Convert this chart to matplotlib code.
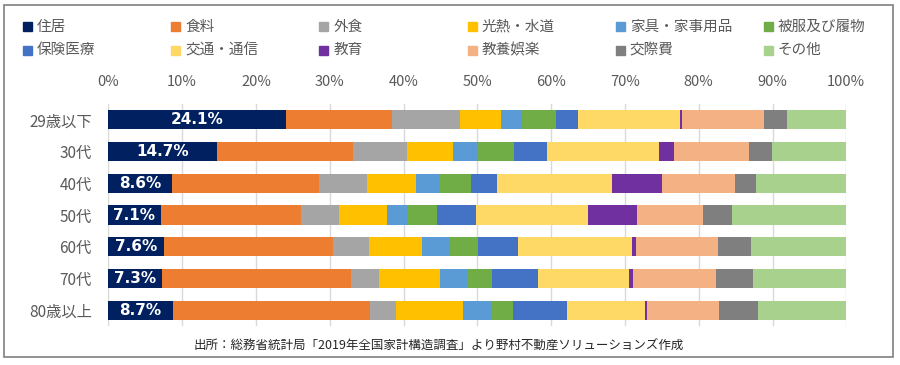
import matplotlib
matplotlib.use('Agg')
import matplotlib.pyplot as plt
from matplotlib.patches import Rectangle
import numpy as np

plt.rcParams['font.family'] = ['Noto Sans CJK JP', 'DejaVu Sans']

ages = ['29歳以下', '30代', '40代', '50代', '60代', '70代', '80歳以上']
items = ['住居', '食料', '外食', '光熱・水道', '家具・家事用品', '被服及び履物',
         '保険医療', '交通・通信', '教育', '教養娯楽', '交際費', 'その他']
colors = ['#002060', '#ED7D31', '#A5A5A5', '#FFC000', '#5B9BD5', '#70AD47',
          '#4472C4', '#FFD966', '#7030A0', '#F4B183', '#7F7F7F', '#A9D18E']

# share of spending (%) per age group, columns follow items
housing   = [24.1, 14.7, 8.6, 7.1, 7.6, 7.3, 8.7]
food      = [14.3, 18.5, 19.9, 19.0, 22.9, 25.6, 26.8]
dining    = [9.2, 7.3, 6.5, 5.2, 4.8, 3.8, 3.5]
utilities = [5.6, 6.2, 6.7, 6.4, 7.2, 8.3, 9.0]
furniture = [2.8, 3.4, 3.2, 2.9, 3.8, 3.8, 3.9]
clothing  = [4.6, 4.9, 4.2, 4.0, 3.8, 3.2, 3.0]
medical   = [3.0, 4.4, 3.6, 5.2, 5.4, 6.2, 7.3]
transport = [13.8, 15.2, 15.6, 15.2, 15.4, 12.4, 10.5]
education = [0.3, 2.1, 6.7, 6.7, 0.6, 0.5, 0.3]
culture   = [11.1, 10.1, 9.9, 8.9, 11.1, 11.3, 9.7]
social    = [3.2, 3.1, 2.9, 3.9, 4.5, 4.9, 5.3]
other     = [8.0, 10.1, 12.2, 15.5, 12.9, 12.7, 12.0]

series = [housing, food, dining, utilities, furniture, clothing,
          medical, transport, education, culture, social, other]

W, H = 900, 365
fig = plt.figure(figsize=(W / 100, H / 100), dpi=100)
fig.patches.append(Rectangle((3.5 / W, 1 - 357 / H), 889 / W, 352 / H,
                             transform=fig.transFigure, fill=False,
                             edgecolor='#7f7f7f', linewidth=1.2))

ax = fig.add_axes([108.3 / W, 1 - 326 / H, 738 / W, 222 / H])
y = np.arange(len(ages))
left = np.zeros(len(ages))
for vals, c in zip(series, colors):
    vals = np.array(vals)
    ax.barh(y, vals, left=left, height=0.6, color=c, zorder=3)
    left += vals

for yi, v in zip(y, housing):
    ax.text(v / 2, yi, f'{v:.1f}%', ha='center', va='center', color='white',
            fontsize=11, fontweight='bold', family='DejaVu Sans', zorder=4)

ax.set_xlim(0, 100)
ax.set_ylim(len(ages) - 0.5, -0.5)
ax.set_xticks(np.arange(0, 101, 10))
ax.set_xticklabels([f'{t}%' for t in range(0, 101, 10)])
ax.set_yticks(y)
ax.set_yticklabels(ages)
ax.xaxis.tick_top()
ax.tick_params(axis='x', length=0, pad=11, labelsize=10.5, colors='#595959')
ax.tick_params(axis='y', length=0, pad=12, labelsize=11, colors='#595959')
ax.grid(axis='x', color='#d9d9d9', linewidth=1, zorder=0)
for s in ax.spines.values():
    s.set_visible(False)

# legend, laid out row by row as in the source
for i, (name, c) in enumerate(zip(items, colors)):
    row, col = divmod(i, 6)
    x0 = 23 + col * 148.2
    yc = 26.5 + row * 23.5
    fig.patches.append(Rectangle((x0 / W, 1 - (yc + 4.5) / H), 9 / W, 9 / H,
                                 transform=fig.transFigure, color=c))
    fig.text((x0 + 14) / W, 1 - yc / H, name, ha='left', va='center',
             fontsize=10.5, color='#595959')

fig.text(439 / W, 1 - 345 / H,
         '出所：総務省統計局「2019年全国家計構造調査」より野村不動産ソリューションズ作成',
         ha='center', va='center', fontsize=9, color='#262626')

fig.savefig('out.png', dpi=100)
